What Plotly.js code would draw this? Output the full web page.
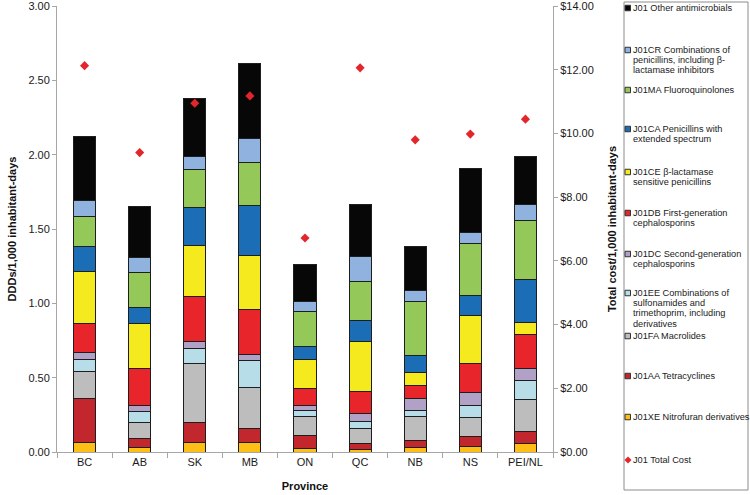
<!DOCTYPE html>
<html>
<head>
<meta charset="utf-8">
<script src="https://cdn.plot.ly/plotly-3.0.1.min.js"></script>
<style>html,body{margin:0;padding:0;background:#fff;}#chart{width:750px;height:495px;}</style>
</head>
<body>
<div id="chart"></div>
<script>
// ---- data ----
var provinces = ["BC", "AB", "SK", "MB", "ON", "QC", "NB", "NS", "PEI/NL"];

// stacked bottom -> top (DDDs/1,000 inhabitant-days)
var xeNitrofuran    = [0.067, 0.030, 0.063, 0.065, 0.022, 0.018, 0.027, 0.036, 0.056];
var aaTetracyclines = [0.294, 0.060, 0.137, 0.092, 0.092, 0.042, 0.053, 0.067, 0.085];
var faMacrolides    = [0.182, 0.110, 0.396, 0.278, 0.126, 0.099, 0.160, 0.130, 0.213];
var eeSulfonamides  = [0.082, 0.070, 0.097, 0.179, 0.042, 0.049, 0.042, 0.083, 0.128];
var dcSecondCeph    = [0.045, 0.045, 0.053, 0.045, 0.029, 0.050, 0.079, 0.085, 0.081];
var dbFirstCeph     = [0.195, 0.250, 0.299, 0.301, 0.117, 0.152, 0.089, 0.193, 0.228];
var ceBetaLactSens  = [0.348, 0.298, 0.347, 0.360, 0.197, 0.334, 0.086, 0.323, 0.081];
var caPenExtended   = [0.172, 0.110, 0.256, 0.339, 0.086, 0.142, 0.114, 0.137, 0.289];
var maFluoroquin    = [0.202, 0.237, 0.252, 0.289, 0.235, 0.262, 0.363, 0.350, 0.395];
var crPenCombos     = [0.108, 0.100, 0.090, 0.159, 0.069, 0.170, 0.074, 0.076, 0.112];
var otherAntimicr   = [0.430, 0.345, 0.389, 0.507, 0.249, 0.347, 0.293, 0.428, 0.322];

// Total cost/1,000 inhabitant-days ($)
var totalCost = [12.13, 9.40, 10.95, 11.18, 6.72, 12.06, 9.80, 9.98, 10.45];

// axis tick values
var dddTicks  = [0, 0.5, 1, 1.5, 2, 2.5, 3];
var costTicks = [0, 2, 4, 6, 8, 10, 12, 14];

var seriesNames = [
  "J01XE Nitrofuran derivatives",
  "J01AA Tetracyclines",
  "J01FA Macrolides",
  "J01EE Combinations of sulfonamides and trimethoprim, including derivatives",
  "J01DC Second-generation cephalosporins",
  "J01DB First-generation cephalosporins",
  "J01CE β-lactamase sensitive penicillins",
  "J01CA Penicillins with extended spectrum",
  "J01MA Fluoroquinolones",
  "J01CR Combinations of penicillins, including β-lactamase inhibitors",
  "J01 Other antimicrobials"
];
var costName = "J01 Total Cost";

// legend text split into lines, top -> bottom of the legend
var legendLines = [
  ["J01 Other antimicrobials"],
  ["J01CR Combinations of", "penicillins, including β-", "lactamase inhibitors"],
  ["J01MA Fluoroquinolones"],
  ["J01CA Penicillins with", "extended spectrum"],
  ["J01CE β-lactamase", "sensitive penicillins"],
  ["J01DB First-generation", "cephalosporins"],
  ["J01DC Second-generation", "cephalosporins"],
  ["J01EE Combinations of", "sulfonamides and", "trimethoprim, including", "derivatives"],
  ["J01FA Macrolides"],
  ["J01AA Tetracyclines"],
  ["J01XE Nitrofuran derivatives"],
  ["J01 Total Cost"]
];

// ---- styles ----
var seriesColors = ["#fdbf16", "#c1272d", "#bdbdbd", "#b7dde8", "#b2a1c7", "#e8252b",
                    "#f4ea1e", "#1b6db5", "#94c95a", "#8fb2df", "#070707"];
var costColor = "#e3262b";
var FONT = "Liberation Sans, Arial, sans-serif";

var seriesData = [xeNitrofuran, aaTetracyclines, faMacrolides, eeSulfonamides, dcSecondCeph,
                  dbFirstCeph, ceBetaLactSens, caPenExtended, maFluoroquin, crPenCombos, otherAntimicr];

var traces = [];
for (var i = 0; i < seriesData.length; i++) {
  traces.push({
    type: "bar", name: seriesNames[i], x: provinces, y: seriesData[i],
    marker: {color: seriesColors[i], line: {color: "#1e1e1e", width: 1}},
    showlegend: false
  });
}
traces.push({
  type: "scatter", mode: "markers", name: costName, x: provinces, y: totalCost,
  yaxis: "y2", marker: {symbol: "diamond", size: 7, color: costColor},
  showlegend: false
});

// plot area in pixels
var L = 57, R = 553, T = 6, B = 452;
function px(x) { return (x - L) / (R - L); }
function py(y) { return (B - y) / (B - T); }

var shapes = [{type: "rect", xref: "paper", yref: "paper",
  x0: px(624), x1: px(748), y0: py(2), y1: py(490),
  line: {color: "#8c8c8c", width: 1}, fillcolor: "rgba(0,0,0,0)"}];
var annotations = [];

var entryY = [8, 50, 90, 129, 172, 213, 254, 293, 336, 376, 417, 460];
var lineGap = 10.2;
// legend colors: top -> bottom
var legendColors = seriesColors.slice().reverse();
for (var k = 0; k < legendLines.length; k++) {
  var y0 = entryY[k];
  if (k < legendColors.length) {
    shapes.push({type: "rect", xref: "paper", yref: "paper",
      x0: px(625), x1: px(630.5), y0: py(y0 + 2.75), y1: py(y0 - 2.75),
      line: {color: "#333", width: 1}, fillcolor: legendColors[k]});
  } else {
    shapes.push({type: "path", xref: "paper", yref: "paper",
      path: "M " + px(628) + " " + py(y0 - 3.5) + " L " + px(631.5) + " " + py(y0) +
            " L " + px(628) + " " + py(y0 + 3.5) + " L " + px(624.5) + " " + py(y0) + " Z",
      line: {width: 0}, fillcolor: costColor});
  }
  for (var j = 0; j < legendLines[k].length; j++) {
    annotations.push({xref: "paper", yref: "paper", x: px(632), y: py(y0 + j * lineGap),
      xanchor: "left", yanchor: "middle", showarrow: false, borderpad: 0,
      text: legendLines[k][j],
      font: {family: FONT, size: 9.2, color: "#1a1a1a"}});
  }
}

var layout = {
  width: 750, height: 495,
  margin: {l: L, r: 750 - R, t: T, b: 495 - B, pad: 0},
  paper_bgcolor: "#fff", plot_bgcolor: "#fff",
  barmode: "stack", bargap: 0.6,
  font: {family: FONT, size: 11, color: "#1a1a1a"},
  showlegend: false,
  xaxis: {
    type: "category", range: [-0.5, 8.5], tickson: "boundaries",
    ticks: "outside", ticklen: 5, tickcolor: "#a6a6a6",
    showline: true, linecolor: "#a6a6a6", linewidth: 1, showgrid: false,
    tickfont: {family: FONT, size: 11, color: "#1a1a1a"},
    title: {text: "<b>Province</b>", font: {family: FONT, size: 11, color: "#111"}, standoff: 15}
  },
  yaxis: {
    range: [0, 3.0005], tickvals: dddTicks,
    ticktext: dddTicks.map(function (v) { return v.toFixed(2); }),
    ticklabeloverflow: "allow",
    ticks: "outside", ticklen: 4, tickcolor: "#a6a6a6",
    showline: true, linecolor: "#a6a6a6", showgrid: false, zeroline: false,
    tickfont: {family: FONT, size: 11, color: "#1a1a1a"},
    title: {text: "<b>DDDs/1,000 inhabitant-days</b>", font: {family: FONT, size: 11, color: "#111"}, standoff: 9}
  },
  yaxis2: {
    overlaying: "y", side: "right", range: [0, 14.0023],
    tickvals: costTicks,
    ticktext: costTicks.map(function (v) { return "$" + v.toFixed(2); }),
    ticklabeloverflow: "allow",
    ticks: "outside", ticklen: 4, tickcolor: "#a6a6a6",
    showline: true, linecolor: "#a6a6a6", showgrid: false, zeroline: false,
    tickfont: {family: FONT, size: 11, color: "#1a1a1a"},
    title: {text: "<b>Total cost/1,000 inhabitant-days</b>", font: {family: FONT, size: 11, color: "#111"}, standoff: 15}
  },
  shapes: shapes,
  annotations: annotations
};

Plotly.newPlot("chart", traces, layout, {displayModeBar: false, staticPlot: true});
</script>
</body>
</html>
